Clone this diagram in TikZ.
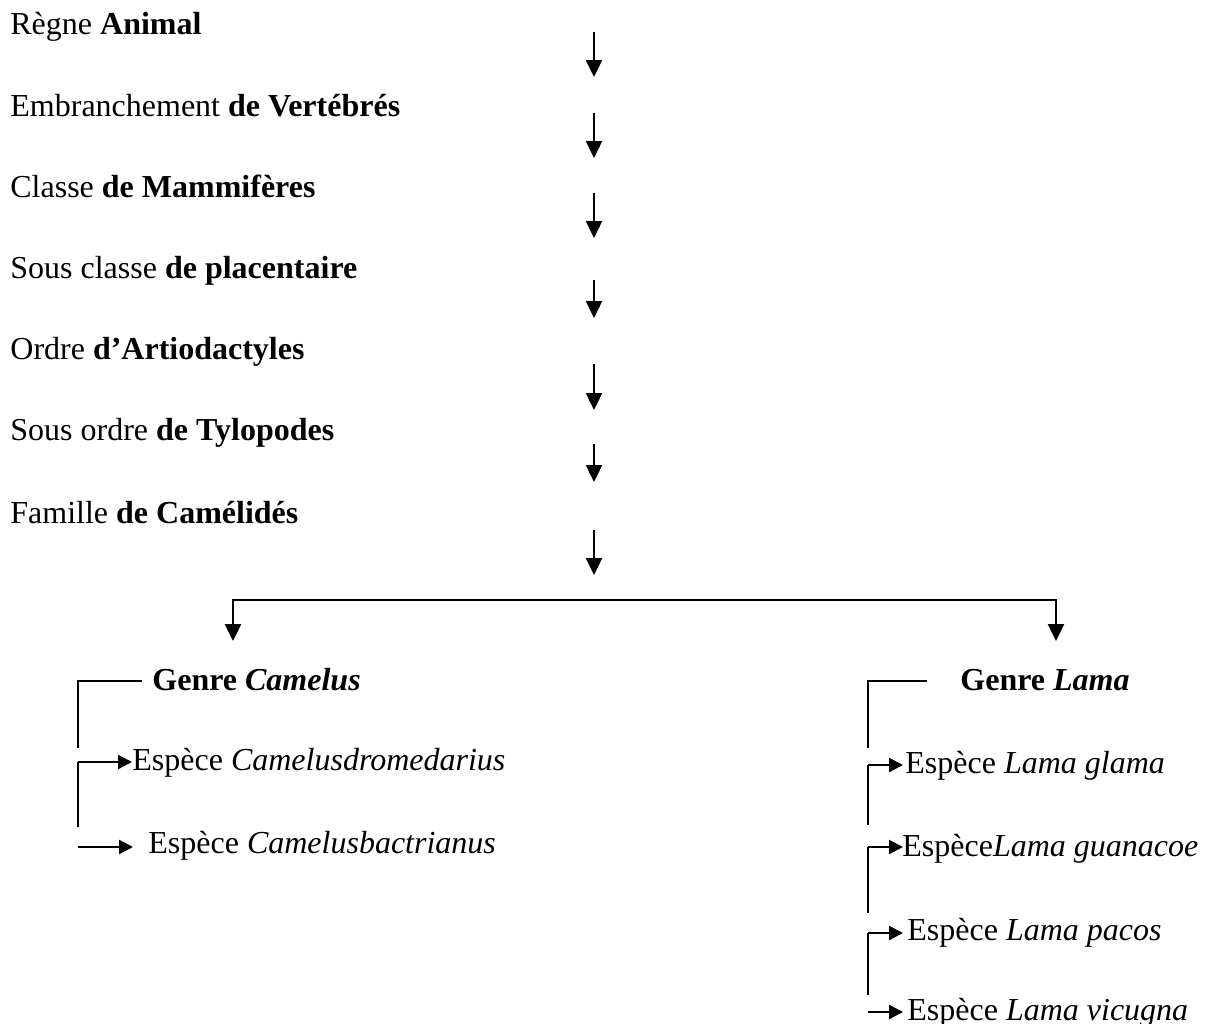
\documentclass[tikz,border=0pt]{standalone}
\usepackage{fontspec}
\setmainfont{Liberation Serif}
\usetikzlibrary{arrows.meta}
\begin{document}
\begin{tikzpicture}[x=0.5pt,y=-0.5pt,
  lbl/.style={anchor=base west,inner sep=0pt,font=\fontsize{16}{19}\selectfont},
  darr/.style={line width=1.2pt,-{Triangle[length=8.5pt,width=8pt]}},
  harr/.style={line width=1.1pt,-{Triangle[length=7pt,width=7pt]}},
  brk/.style={line width=0.9pt},
  hline/.style={line width=1.2pt,line cap=rect}]
\useasboundingbox (0,0) rectangle (1207,1024);
% taxonomy levels
\node[lbl] (regne) at (10,34) {Règne \textbf{Animal}};
\node[lbl] (embr) at (10,116) {Embranchement \textbf{de Vertébrés}};
\node[lbl] (classe) at (10,197) {Classe \textbf{de Mammifères}};
\node[lbl] (sclasse) at (10,278) {Sous classe \textbf{de placentaire}};
\node[lbl] (ordre) at (10,359) {Ordre \textbf{d’Artiodactyles}};
\node[lbl] (sordre) at (10,440) {Sous ordre \textbf{de Tylopodes}};
\node[lbl] (famille) at (10,523) {Famille \textbf{de Camélidés}};
% vertical arrows
\coordinate (v1s) at (594,32);  \coordinate (v1e) at (594,77);
\coordinate (v2s) at (594,113); \coordinate (v2e) at (594,158);
\coordinate (v3s) at (594,193); \coordinate (v3e) at (594,238);
\coordinate (v4s) at (594,280); \coordinate (v4e) at (594,318);
\coordinate (v5s) at (594,364); \coordinate (v5e) at (594,410);
\coordinate (v6s) at (594,444); \coordinate (v6e) at (594,482);
\coordinate (v7s) at (594,530); \coordinate (v7e) at (594,575);
\foreach \i in {1,...,7} {\draw[darr] (v\i s) -- (v\i e);}
% branching
\coordinate (bl) at (233,600); \coordinate (br) at (1056,600);
\coordinate (blt) at (233,641); \coordinate (brt) at (1056,641);
\draw[hline] (bl) -- (br);
\draw[darr] (bl) -- (blt);
\draw[darr] (br) -- (brt);
% genus Camelus
\node[lbl] (genreC) at (152,690) {\textbf{Genre \textit{Camelus}}};
\node[lbl] (camD) at (132,770) {Espèce \textit{Camelusdromedarius}};
\node[lbl] (camB) at (148,853) {Espèce \textit{Camelusbactrianus}};
\coordinate (cA) at (78,681); \coordinate (cAe) at (142,681);
\coordinate (cB) at (78,748);
\coordinate (cC) at (78,762); \coordinate (cD) at (78,827);
\coordinate (cE) at (78,847); \coordinate (cEt) at (133,847);
\draw[brk] (cB) -- (cA) -- (cAe);
\draw[brk] (cD) -- (cC);
\draw[harr] (cC) -- (cC -| camD.west);
\draw[harr] (cE) -- (cEt);
% genus Lama
\node[lbl] (genreL) at (960,690) {\textbf{Genre \textit{Lama}}};
\node[lbl] (lg) at (905,773) {Espèce \textit{Lama glama}};
\node[lbl] (lgu) at (902,856) {Espèce\textit{Lama guanacoe}};
\node[lbl] (lp) at (907,940) {Espèce \textit{Lama pacos}};
\node[lbl] (lv) at (907,1020) {Espèce \textit{Lama vicugna}};
\coordinate (rA) at (868,681); \coordinate (rAe) at (927,681);
\coordinate (rB) at (868,748);
\coordinate (r1) at (868,765); \coordinate (r1b) at (868,825);
\coordinate (r2) at (868,847); \coordinate (r2b) at (868,913);
\coordinate (r3) at (868,933); \coordinate (r3b) at (868,995);
\coordinate (r4) at (868,1012);
\coordinate (tip) at (903,0);
\draw[brk] (rB) -- (rA) -- (rAe);
\draw[brk] (r1) -- (r1b);
\draw[brk] (r2) -- (r2b);
\draw[brk] (r3) -- (r3b);
\draw[harr] (r1) -- (r1 -| tip);
\draw[harr] (r2) -- (r2 -| tip);
\draw[harr] (r3) -- (r3 -| tip);
\draw[harr] (r4) -- (r4 -| tip);
\end{tikzpicture}
\end{document}
